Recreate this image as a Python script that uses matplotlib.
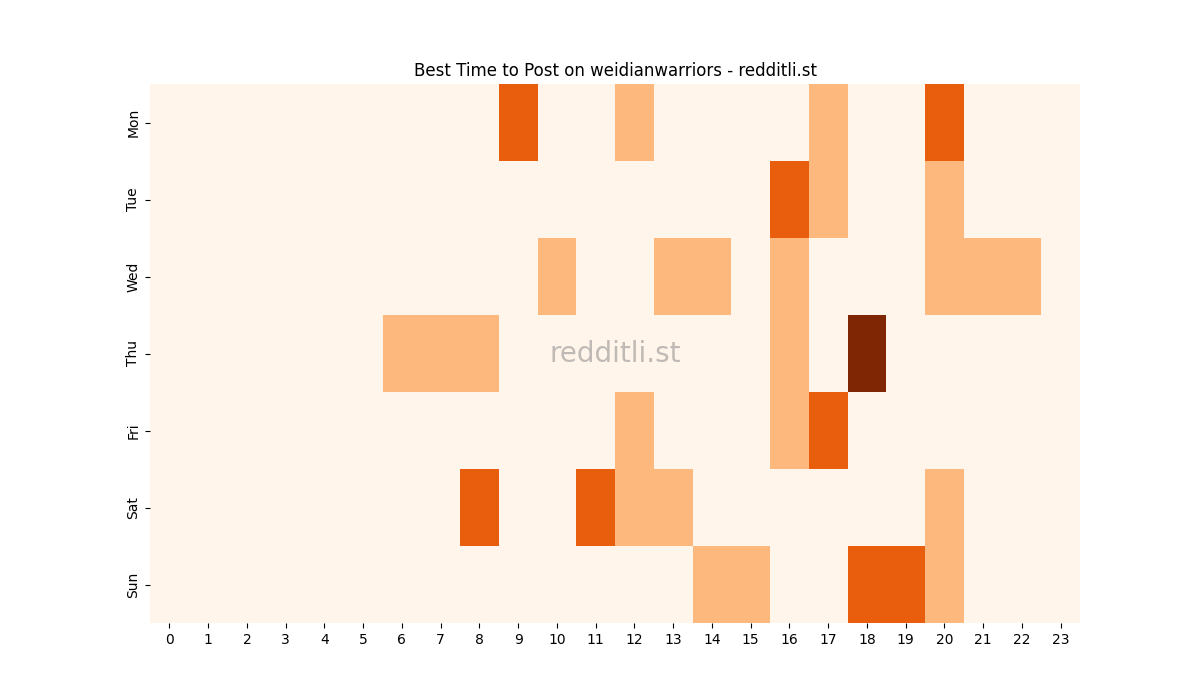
import numpy as np
import matplotlib
matplotlib.use("Agg")
import matplotlib.pyplot as plt
import seaborn as sns

# jours et heures
days = ["Mon", "Tue", "Wed", "Thu", "Fri", "Sat", "Sun"]
hours = list(range(24))

# cases non nulles : (heure, niveau)
mon = {9: 2, 12: 1, 17: 1, 20: 2}
tue = {16: 2, 17: 1, 20: 1}
wed = {10: 1, 13: 1, 14: 1, 16: 1, 20: 1, 21: 1, 22: 1}
thu = {6: 1, 7: 1, 8: 1, 16: 1, 18: 3}
fri = {12: 1, 16: 1, 17: 2}
sat = {8: 2, 11: 2, 12: 1, 13: 1, 20: 1}
sun = {14: 1, 15: 1, 18: 2, 19: 2, 20: 1}

rows = [mon, tue, wed, thu, fri, sat, sun]
grid = np.zeros((len(days), len(hours)))
for i, r in enumerate(rows):
    for h, v in r.items():
        grid[i, h] = v

fig = plt.figure(figsize=(12, 7), dpi=100)
ax = sns.heatmap(grid, cmap="Oranges", cbar=False, xticklabels=hours, yticklabels=days)
ax.set_title("Best Time to Post on weidianwarriors - redditli.st")
ax.text(0.5, 0.5, "redditli.st", transform=ax.transAxes, ha="center", va="center",
        fontsize=20, color="gray", alpha=0.5)
plt.savefig("out.png")
